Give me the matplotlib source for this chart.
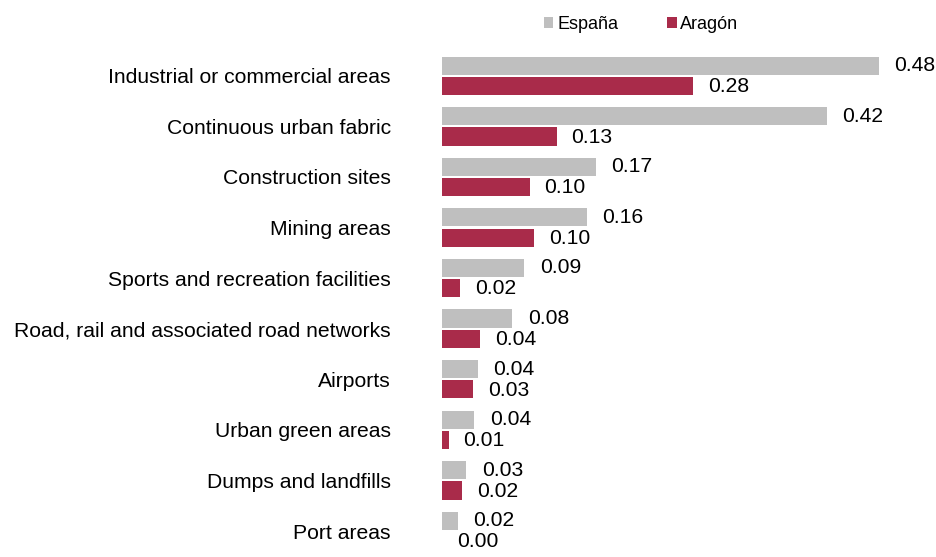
import matplotlib
matplotlib.use("Agg")
import matplotlib.pyplot as plt
import numpy as np

plt.rcParams['font.family'] = ['Liberation Sans', 'DejaVu Sans']

categories = [
    "Industrial or commercial areas",
    "Continuous urban fabric",
    "Construction sites",
    "Mining areas",
    "Sports and recreation facilities",
    "Road, rail and associated road networks",
    "Airports",
    "Urban green areas",
    "Dumps and landfills",
    "Port areas",
]
espana = [0.480, 0.423, 0.169, 0.159, 0.090, 0.077, 0.039, 0.035, 0.026, 0.017]
aragon = [0.276, 0.126, 0.096, 0.101, 0.020, 0.042, 0.034, 0.007, 0.022, 0.000]
series_names = ["España", "Aragón"]
colors = ["#BFBFBF", "#A92B4A"]

W, H = 936, 557
fig = plt.figure(figsize=(W / 100, H / 100), dpi=100)
ax_left = 442.3 / W
ax_right = 934 / W
ax_top = 1 - 40 / H
ax = fig.add_axes([ax_left, 0, ax_right - ax_left, ax_top])

y = np.arange(len(categories))
h = 0.36
off = 0.2
b1 = ax.barh(y - off, espana, height=h, color=colors[0], label=series_names[0])
b2 = ax.barh(y + off, aragon, height=h, color=colors[1], label=series_names[1])

ax.set_xlim(0, (934 - 442.3) / 909.0)
ax.set_ylim(9.514, -0.707)

fs = 15.2
for yi, v in zip(y - off, espana):
    ax.annotate(f"{v:.2f}", (v, yi), xytext=(11.3, 0), textcoords="offset points",
                va="center", ha="left", fontsize=fs, color="#000000",
                annotation_clip=False)
for yi, v in zip(y + off, aragon):
    ax.annotate(f"{v:.2f}", (v, yi), xytext=(10.5, -0.5), textcoords="offset points",
                va="center", ha="left", fontsize=fs, color="#000000",
                annotation_clip=False)

ax.set_yticks(y)
ax.set_yticklabels(categories, fontsize=fs)
ax.tick_params(axis='y', length=0, pad=37)
ax.set_xticks([])
for s in ax.spines.values():
    s.set_visible(False)

leg = fig.legend(handles=[b1, b2], labels=series_names, loc="center",
                 bbox_to_anchor=(641 / W, 1 - 24.5 / H), ncol=2, frameon=False,
                 fontsize=13, handlelength=0.55, handleheight=0.55,
                 handletextpad=0.2, columnspacing=2.7, borderaxespad=0)

fig.savefig("out.png", dpi=100)
